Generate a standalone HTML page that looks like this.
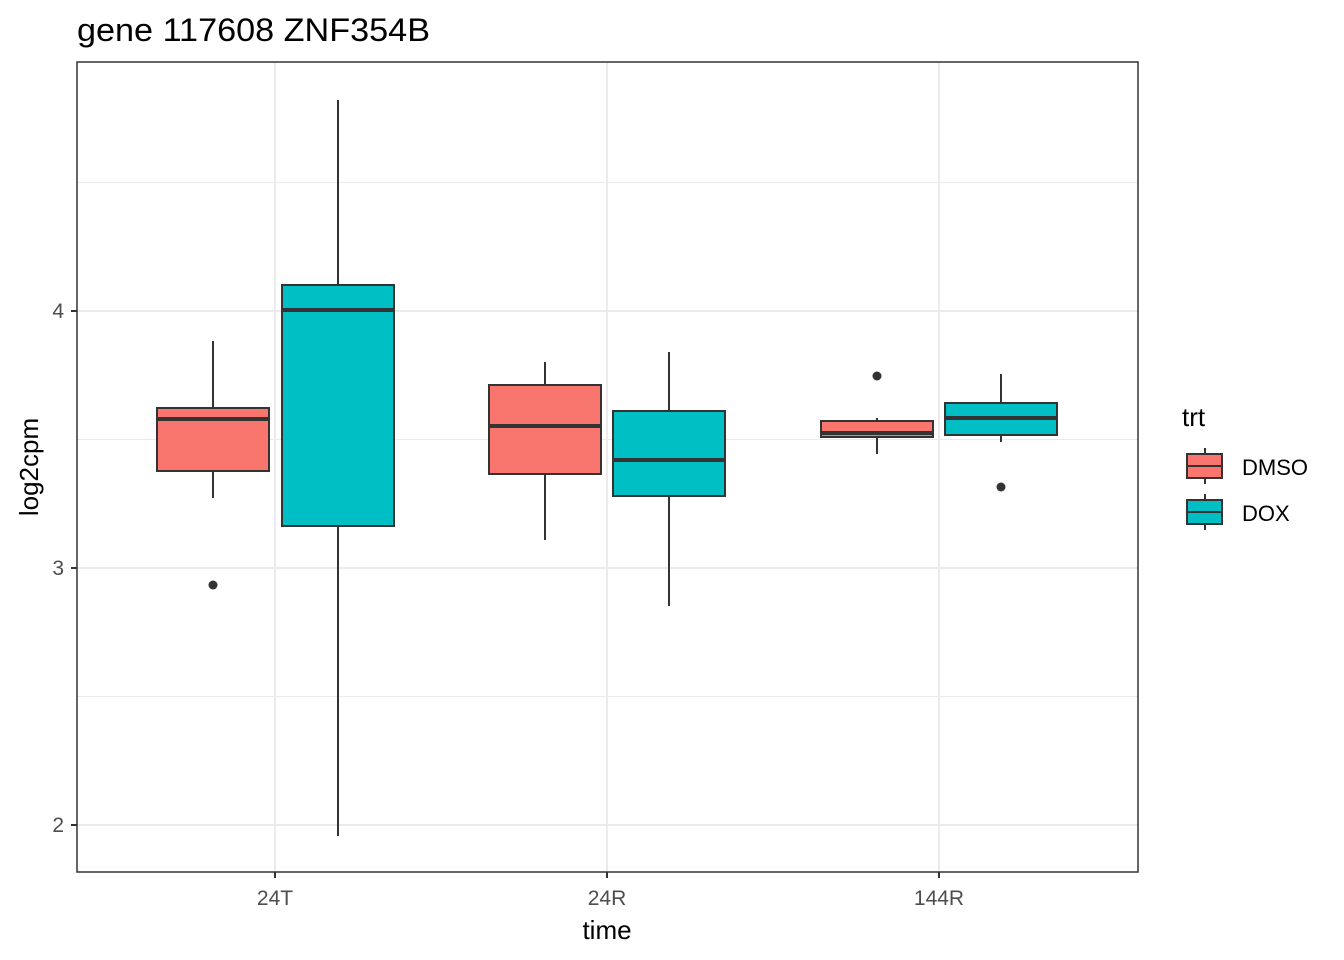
<!DOCTYPE html>
<html><head><meta charset="utf-8"><style>
html,body{margin:0;padding:0;background:#fff;}
svg{display:block;font-family:"Liberation Sans",Arial,sans-serif;}
</style></head><body>
<svg width="1344" height="960" viewBox="0 0 1344 960" xmlns="http://www.w3.org/2000/svg">
<rect width="1344" height="960" fill="#fff"/>
<text x="77" y="41" font-size="32" fill="#000" textLength="353" lengthAdjust="spacingAndGlyphs">gene 117608 ZNF354B</text>
<g stroke="#ebebeb" stroke-width="1">
<line x1="77" x2="1138" y1="182.5" y2="182.5"/>
<line x1="77" x2="1138" y1="439.5" y2="439.5"/>
<line x1="77" x2="1138" y1="696.5" y2="696.5"/>
</g>
<g stroke="#ebebeb" stroke-width="2">
<line x1="77" x2="1138" y1="311" y2="311"/>
<line x1="77" x2="1138" y1="568" y2="568"/>
<line x1="77" x2="1138" y1="825" y2="825"/>
<line x1="275" x2="275" y1="62" y2="872"/>
<line x1="607" x2="607" y1="62" y2="872"/>
<line x1="939" x2="939" y1="62" y2="872"/>
</g>
<g stroke="#333" stroke-width="2">
<line x1="213" x2="213" y1="341" y2="408"/><line x1="213" x2="213" y1="471" y2="498"/>
<rect x="157" y="408" width="112" height="63" fill="#F8766D"/>
<line x1="157" x2="269" y1="419" y2="419" stroke-width="4"/>
<line x1="338" x2="338" y1="100" y2="285"/><line x1="338" x2="338" y1="526" y2="836"/>
<rect x="282" y="285" width="112" height="241" fill="#00BFC4"/>
<line x1="282" x2="394" y1="310" y2="310" stroke-width="4"/>
<line x1="545" x2="545" y1="362" y2="385"/><line x1="545" x2="545" y1="474" y2="540"/>
<rect x="489" y="385" width="112" height="89" fill="#F8766D"/>
<line x1="489" x2="601" y1="426" y2="426" stroke-width="4"/>
<line x1="669" x2="669" y1="352" y2="411"/><line x1="669" x2="669" y1="496" y2="606"/>
<rect x="613" y="411" width="112" height="85" fill="#00BFC4"/>
<line x1="613" x2="725" y1="460" y2="460" stroke-width="4"/>
<line x1="877" x2="877" y1="418" y2="421"/><line x1="877" x2="877" y1="437" y2="454"/>
<rect x="821" y="421" width="112" height="16" fill="#F8766D"/>
<line x1="821" x2="933" y1="433" y2="433" stroke-width="4"/>
<line x1="1001" x2="1001" y1="374" y2="403"/><line x1="1001" x2="1001" y1="435" y2="442"/>
<rect x="945" y="403" width="112" height="32" fill="#00BFC4"/>
<line x1="945" x2="1057" y1="418" y2="418" stroke-width="4"/>
</g>
<g fill="#333">
<circle cx="213" cy="585" r="4.5"/>
<circle cx="877" cy="376" r="4.5"/>
<circle cx="1001" cy="487" r="4.5"/>
</g>
<rect x="77" y="62" width="1061" height="810" fill="none" stroke="#333" stroke-width="1.5"/>
<g stroke="#333" stroke-width="2">
<line x1="71" x2="77" y1="311" y2="311"/><line x1="71" x2="77" y1="568" y2="568"/><line x1="71" x2="77" y1="825" y2="825"/>
<line x1="275" x2="275" y1="872" y2="878"/><line x1="607" x2="607" y1="872" y2="878"/><line x1="939" x2="939" y1="872" y2="878"/>
</g>
<g font-size="21" fill="#4d4d4d" text-anchor="end">
<text x="64" y="318">4</text><text x="64" y="575">3</text><text x="64" y="832">2</text>
</g>
<g font-size="21" fill="#4d4d4d" text-anchor="middle">
<text x="275" y="905">24T</text><text x="607" y="905">24R</text><text x="939" y="905">144R</text>
</g>
<text x="607" y="939" font-size="26" text-anchor="middle" fill="#000">time</text>
<text transform="translate(38,467) rotate(-90)" font-size="26" text-anchor="middle" fill="#000">log2cpm</text>
<text x="1182" y="426" font-size="26" fill="#000">trt</text>
<g stroke="#333" stroke-width="2">
<line x1="1205" x2="1205" y1="448" y2="484"/>
<rect x="1187" y="454" width="35" height="24" fill="#F8766D"/>
<line x1="1187" x2="1222" y1="466" y2="466"/>
<line x1="1205" x2="1205" y1="494" y2="530"/>
<rect x="1187" y="500" width="35" height="24" fill="#00BFC4"/>
<line x1="1187" x2="1222" y1="512" y2="512"/>
</g>
<text x="1242" y="475" font-size="22" fill="#000">DMSO</text>
<text x="1242" y="521" font-size="22" fill="#000">DOX</text>
</svg>
</body></html>
